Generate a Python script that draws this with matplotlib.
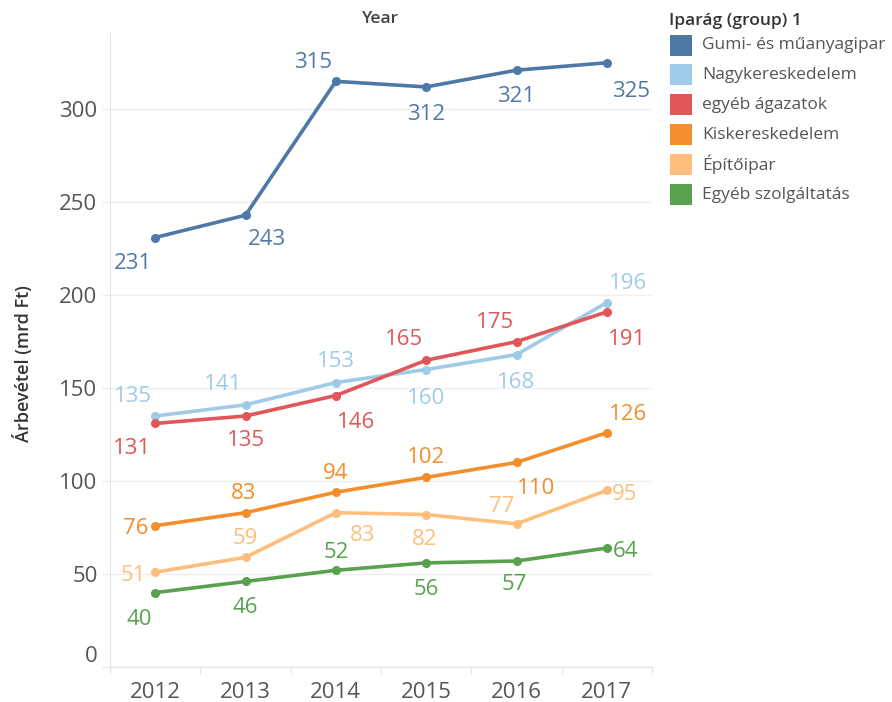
import matplotlib
matplotlib.use("Agg")
import matplotlib.pyplot as plt
from matplotlib.patches import Rectangle

# data
years = ["2012", "2013", "2014", "2015", "2016", "2017"]
series_names = ["Gumi- és műanyagipar", "Nagykereskedelem", "egyéb ágazatok",
                "Kiskereskedelem", "Építőipar", "Egyéb szolgáltatás"]
gumi = [231, 243, 315, 312, 321, 325]
nagyker = [135, 141, 153, 160, 168, 196]
egyeb_ag = [131, 135, 146, 165, 175, 191]
kisker = [76, 83, 94, 102, 110, 126]
epitoipar = [51, 59, 83, 82, 77, 95]
egyeb_szolg = [40, 46, 52, 56, 57, 64]
yticks = [0, 50, 100, 150, 200, 250, 300]

series = [gumi, nagyker, egyeb_ag, kisker, epitoipar, egyeb_szolg]
colors = ["#4e79a7", "#a0cbe8", "#e15759", "#f28e2b", "#ffbe7d", "#59a14f"]

# label offsets in pixels (dx, dy downwards), as Tableau placed them
offsets = [
    [(-22, 23), (21, 22), (-23, -21), (0, 25), (0, 24), (24, 26)],
    [(-22, -22), (-22, -23), (0, -24), (0, 26), (0, 25), (21, -22)],
    [(-23, 23), (0, 22), (20, 24), (-22, -23), (-21, -22), (20, 25)],
    [(-19, 0), (-2, -22), (0, -21), (0, -22), (20, 24), (21, -21)],
    [(-22, 1), (0, -21), (27, 20), (-2, 22), (-15, -20), (18, 2)],
    [(-16, 24), (0, 24), (0, -20), (0, 24), (-2, 21), (19, 1)],
]

plt.rcParams['font.family'] = ['Open Sans', 'DejaVu Sans']
W, H = 892, 702
fig = plt.figure(figsize=(W / 100, H / 100), dpi=100)
ax = fig.add_axes([110 / W, (H - 667) / H, 542 / W, 634 / H])

x = list(range(len(years)))
for vals, col, offs in zip(series, colors, offsets):
    ax.plot(x, vals, color=col, lw=2.6, marker='o', markersize=5.5, zorder=3,
            solid_capstyle='round')
    for xi, v, (dx, dy) in zip(x, vals, offs):
        ax.annotate(str(v), (xi, v), xytext=(dx, -dy), textcoords='offset pixels',
                    ha='center', va='center_baseline', fontsize=16, color=col, zorder=4)

ax.set_xlim(-0.5, len(years) - 0.5)
ax.set_ylim(0, 341)
ax.set_xticks(x)
ax.set_xticklabels(years)
ax.set_xticks([i - 0.5 for i in range(len(years) + 1)], minor=True)
ax.set_yticks(yticks)
ax.set_yticklabels([str(t) for t in yticks])
ax.tick_params(axis='x', which='major', length=0, pad=11, labelsize=16, labelcolor='#555555')
ax.tick_params(axis='x', which='minor', length=5, width=1, color='#e6e6e6')
ax.tick_params(axis='y', length=6, width=1, color='#ececec', pad=3, labelsize=16,
               labelcolor='#555555')
ax.get_yticklabels()[0].set_verticalalignment('bottom')

ax.grid(axis='y', color='#efefef', lw=1, zorder=0)
for side in ['top', 'right']:
    ax.spines[side].set_visible(False)
ax.spines['left'].set_color('#e3e3e3')
ax.spines['bottom'].set_color('#e3e3e3')

fig.text(381 / W, 1 - 19 / H, "Year", ha='center', va='center', fontsize=12.5,
         color='#444444', fontweight='semibold')
fig.text(23 / W, 1 - 364 / H, "Árbevétel (mrd Ft)", rotation=90, ha='center', va='center',
         fontsize=13, color='#333333', fontweight='semibold')

# legend drawn by hand, Tableau style
fig.text(669 / W, 1 - 21 / H, "Iparág (group) 1", ha='left', va='center', fontsize=12.5,
         color='#333333', fontweight='semibold')
for i, (name, col) in enumerate(zip(series_names, colors)):
    yc = 45 + i * 29.9
    fig.patches.append(Rectangle((670 / W, 1 - (yc + 10.5) / H), 22 / W, 21 / H,
                                 transform=fig.transFigure, facecolor=col, edgecolor='none'))
    fig.text(702 / W, 1 - yc / H, name, ha='left', va='center', fontsize=12.5, color='#555555')

fig.savefig("out.png", dpi=100)
